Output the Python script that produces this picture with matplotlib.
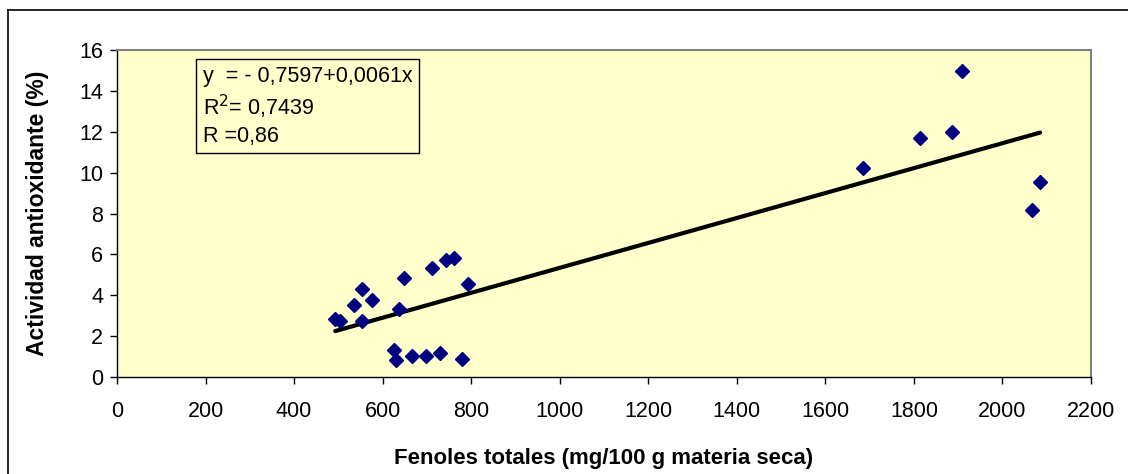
import numpy as np
import matplotlib
matplotlib.use('Agg')
import matplotlib.pyplot as plt
from matplotlib.lines import Line2D

plt.rcParams['font.family'] = ['Liberation Sans', 'DejaVu Sans']

# Fenoles totales (mg/100 g materia seca) vs actividad antioxidante (%)
fenoles = [493, 504, 535, 553, 553, 576, 626, 631, 638, 649, 666, 698,
           711, 730, 742, 762, 779, 793, 1684, 1814, 1886, 1908, 2066, 2085]
actividad = [2.83, 2.73, 3.51, 4.29, 2.75, 3.79, 1.32, 0.83, 3.35, 4.86, 1.04, 1.04,
             5.35, 1.15, 5.74, 5.83, 0.88, 4.57, 10.21, 11.68, 11.97, 14.98, 8.18, 9.53]

intercept = -0.7597
slope = 0.0061
x_ticks = list(range(0, 2201, 200))
y_ticks = list(range(0, 17, 2))

fig = plt.figure(figsize=(11.28, 4.74), dpi=100)
ax = fig.add_axes([117/1128, 1 - 377/474, (1091 - 117)/1128, (377 - 50)/474])
ax.set_facecolor('#FFFFCC')

ax.plot(fenoles, actividad, linestyle='none', marker='D', markersize=7,
        color='#000080', markeredgecolor='#000080', zorder=3)

xl = np.array([min(fenoles), max(fenoles)])
ax.plot(xl, intercept + slope * xl, color='black', linewidth=3,
        solid_capstyle='round', zorder=2)

ax.set_xlim(0, 2200)
ax.set_ylim(0, 16)
ax.set_xticks(x_ticks)
ax.set_yticks(y_ticks)
ax.tick_params(labelsize=15.5, length=5, width=1, direction='out', pad=12)
ax.tick_params(axis='y', pad=5)

for s in ['top', 'right']:
    ax.spines[s].set_color('#808080')
    ax.spines[s].set_linewidth(1.5)
for s in ['left', 'bottom']:
    ax.spines[s].set_color('black')
    ax.spines[s].set_linewidth(1)

ax.set_xlabel('Fenoles totales (mg/100 g materia seca)', fontsize=16,
              fontweight='bold', labelpad=19)
ax.set_ylabel('Actividad antioxidante (%)', fontsize=16.5, fontweight='bold',
              labelpad=22)

ax.text(0.088, 0.952, 'y  = - 0,7597+0,0061x\nR$^2$= 0,7439\nR =0,86',
        transform=ax.transAxes, fontsize=15.5, va='top', ha='left',
        linespacing=1.28,
        bbox=dict(boxstyle='square,pad=0.3', facecolor='#FFFFCC',
                  edgecolor='black', linewidth=1))

# outer chart frame (only top and left visible)
fig.add_artist(Line2D([8/1128, 8/1128], [0, 1 - 10/474], color='black',
                      linewidth=1.2, transform=fig.transFigure))
fig.add_artist(Line2D([8/1128, 1], [1 - 10/474, 1 - 10/474], color='black',
                      linewidth=1.2, transform=fig.transFigure))

fig.savefig('out.png', dpi=100)
